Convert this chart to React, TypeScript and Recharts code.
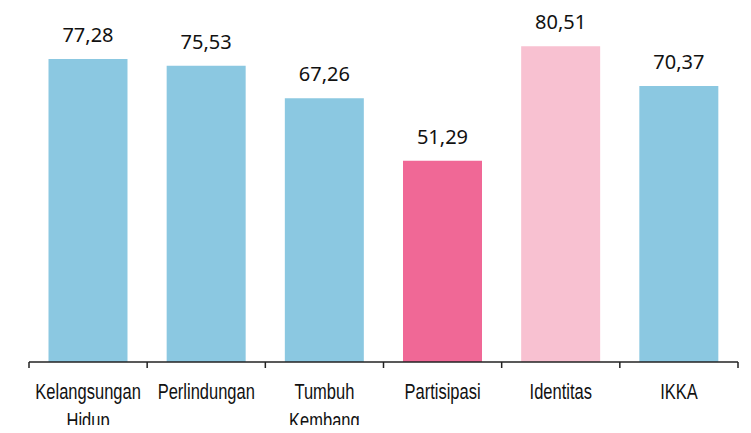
import { BarChart, Bar, XAxis, YAxis, Cell, LabelList } from 'recharts';

const categories = ['Kelangsungan Hidup', 'Perlindungan', 'Tumbuh Kembang', 'Partisipasi', 'Identitas', 'IKKA'];
const values = [77.28, 75.53, 67.26, 51.29, 80.51, 70.37];
const barColors = ['#8BC8E1', '#8BC8E1', '#8BC8E1', '#F06896', '#F8C1D1', '#8BC8E1'];
const boundaryTicks = [0, 1, 2, 3, 4, 5, 6];

const data = categories.map((name, i) => ({ name, value: values[i], pos: i + 0.5 }));

const tickFont = '"Liberation Sans", Arial, sans-serif';
const labelFont = '"Noto Sans", "Open Sans", sans-serif';

function formatValue(v: number): string {
  return v.toFixed(2).replace('.', ',');
}

// condensed look: regular sans squeezed horizontally
function CategoryTick(props: any) {
  const { x, y, payload } = props;
  const lines = String(payload.value).split(' ');
  return (
    <g transform={`translate(${x},${y}) scale(0.75,1)`}>
      <text x={0} y={0} textAnchor="middle" fontFamily={tickFont} fontSize={22} fill="#111">
        {lines.map((line, i) => (
          <tspan key={i} x={0} dy={i === 0 ? 28 : 29}>
            {line}
          </tspan>
        ))}
      </text>
    </g>
  );
}

export default function App() {
  return (
    <div style={{ margin: -8, width: 751, height: 433, background: '#fff' }}>
      <BarChart
        width={751}
        height={433}
        data={data}
        margin={{ top: 9, right: 13, left: 29, bottom: 0 }}
        barCategoryGap="16.5%"
      >
        <XAxis
          xAxisId="bounds"
          dataKey="pos"
          type="number"
          domain={[0, 6]}
          ticks={boundaryTicks}
          height={1}
          tickSize={6}
          tick={() => null}
          axisLine={{ stroke: '#222', strokeWidth: 1.5 }}
          tickLine={{ stroke: '#222', strokeWidth: 1.5 }}
        />
        <XAxis
          xAxisId="cats"
          dataKey="name"
          height={70}
          interval={0}
          axisLine={false}
          tickLine={false}
          tick={<CategoryTick />}
        />
        <YAxis hide domain={[0, 90]} />
        <Bar dataKey="value" xAxisId="cats" isAnimationActive={false}>
          {data.map((d, i) => (
            <Cell key={d.name} fill={barColors[i]} />
          ))}
          <LabelList
            dataKey="value"
            position="top"
            offset={17}
            formatter={(v: any) => formatValue(Number(v))}
            style={{ fontFamily: labelFont, fontSize: 20, fill: '#111' }}
          />
        </Bar>
      </BarChart>
    </div>
  );
}
